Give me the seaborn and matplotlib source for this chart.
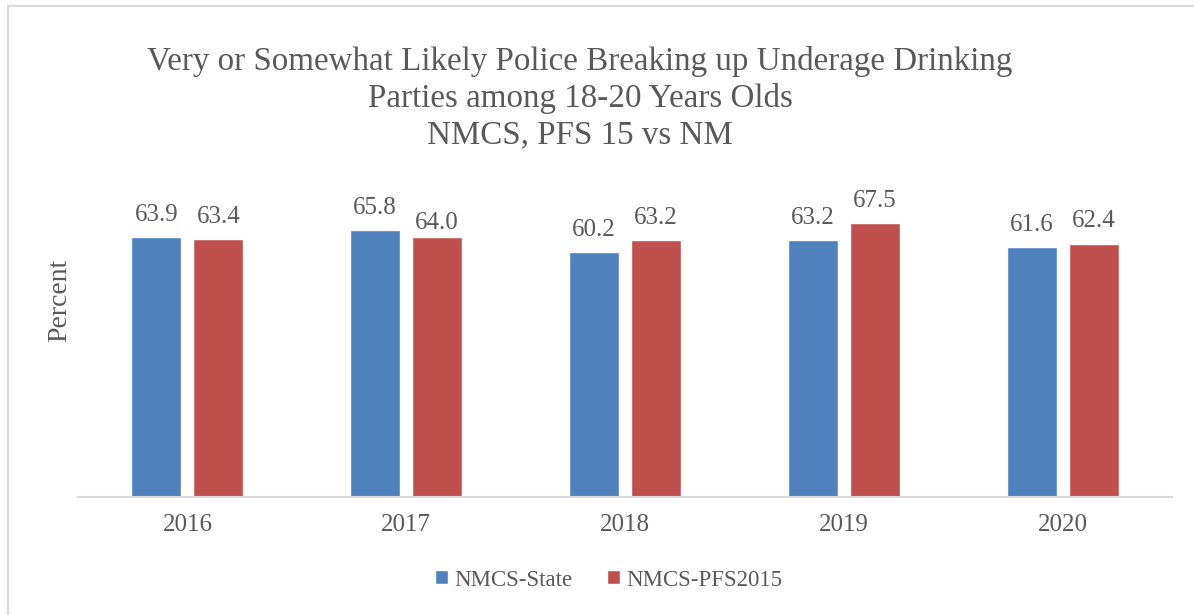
import matplotlib
matplotlib.use("Agg")
import matplotlib.pyplot as plt
import seaborn as sns
import pandas as pd
from matplotlib.patches import Rectangle

years = ["2016", "2017", "2018", "2019", "2020"]
series_names = ["NMCS-State", "NMCS-PFS2015"]
state_values = [63.9, 65.8, 60.2, 63.2, 61.6]
pfs_values = [63.4, 64.0, 63.2, 67.5, 62.4]

title_text = ("Very or Somewhat Likely Police Breaking up Underage Drinking\n"
              "Parties among 18-20 Years Olds\n"
              "NMCS, PFS 15 vs NM")
y_label = "Percent"

colors = ["#4F81BD", "#C0504D"]
text_color = "#595959"
serif = ["Liberation Serif", "DejaVu Serif"]

df = pd.DataFrame({
    "Year": years * 2,
    "Series": [series_names[0]] * len(years) + [series_names[1]] * len(years),
    "Value": state_values + pfs_values,
})

sns.set_theme(style="white")
plt.rcParams["font.family"] = serif

fig = plt.figure(figsize=(11.94, 6.15), dpi=100)
W, H = 1194, 615
ax = fig.add_axes([78 / W, 1 - 497 / H, (1172 - 78) / W, (497 - 172) / H])

sns.barplot(data=df, x="Year", y="Value", hue="Series", palette=colors,
            width=0.567, gap=0.194, ax=ax, legend=True, saturation=1)

ax.set_ylim(0, 80)
ax.set_xlim(-0.5, len(years) - 0.5)
ax.set_xlabel("")
ax.set_ylabel("")
ax.set_yticks([])
for side in ["top", "right", "left"]:
    ax.spines[side].set_visible(False)
ax.spines["bottom"].set_color("#d9d9d9")
ax.spines["bottom"].set_linewidth(1.5)
ax.tick_params(axis="x", length=0, pad=12, labelsize=18, labelcolor=text_color)

# value labels above each bar (the 2017 PFS label sits a little lower)
for ci, cont in enumerate(ax.containers):
    texts = ax.bar_label(cont, fmt="%.1f", padding=8, fontsize=18, color=text_color)
    if ci == 1:
        texts[1].xyann = (0, 2)

# legend along the bottom
handles, labels = ax.get_legend_handles_labels()
ax.legend_.remove()
fig.legend(handles, labels, loc="center", bbox_to_anchor=(609 / W, 1 - 580 / H),
           ncol=2, frameon=False, fontsize=16.5, labelcolor=text_color,
           handlelength=0.55, handleheight=0.55, handletextpad=0.3, columnspacing=1.5)

fig.text(580 / W, 1 - 98 / H, title_text, ha="center", va="center",
         fontsize=23.8, color=text_color, linespacing=1.24)
fig.text(60 / W, 1 - 300 / H, y_label, ha="center", va="center", rotation=90,
         fontsize=20, color=text_color)

# chart frame
fig.patches.append(Rectangle((8 / W, -0.05), 1.1, 1 - 6 / H + 0.05,
                             transform=fig.transFigure, fill=False,
                             edgecolor="#d9d9d9", linewidth=1.5))

fig.savefig("out.png", dpi=100)
